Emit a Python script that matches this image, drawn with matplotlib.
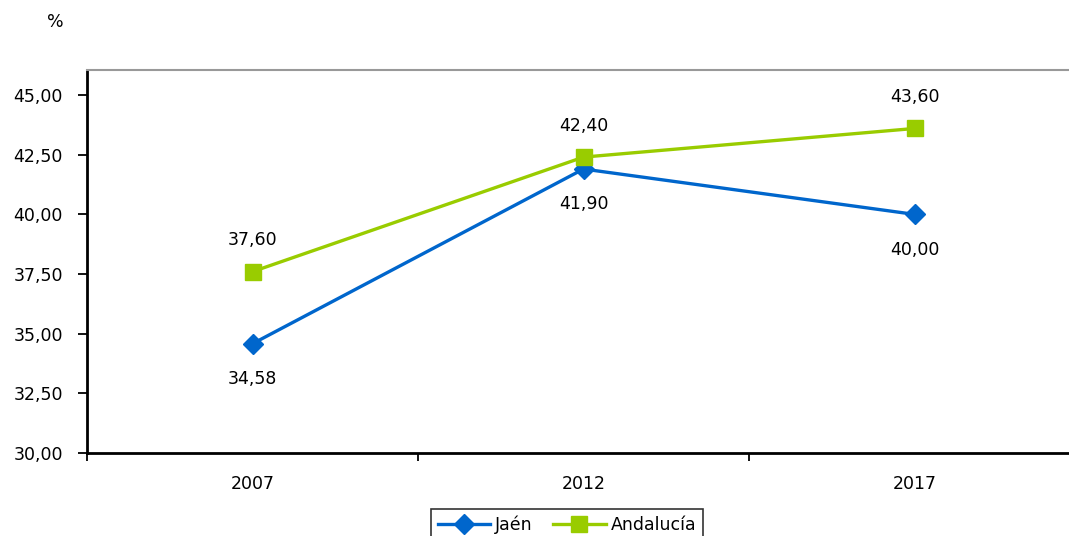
import matplotlib
matplotlib.use("Agg")
import matplotlib.pyplot as plt

years = ["2007", "2012", "2017"]
jaen = [34.58, 41.90, 40.00]
andalucia = [37.60, 42.40, 43.60]
jaen_labels = ["34,58", "41,90", "40,00"]
and_labels = ["37,60", "42,40", "43,60"]
yticks = [30.0, 32.5, 35.0, 37.5, 40.0, 42.5, 45.0]
ytick_labels = ["30,00", "32,50", "35,00", "37,50", "40,00", "42,50", "45,00"]

W, H = 1069, 536
fig = plt.figure(figsize=(W / 100, H / 100), dpi=100)
plt.rcParams['font.family'] = ['DejaVu Sans']
FS = 12.5
ax = fig.add_axes([87 / W, (H - 453) / H, (1080 - 87) / W, (453 - 70) / H])

blue = "#0066CC"
green = "#99CC00"
x = list(range(len(years)))
ax.plot(x, jaen, color=blue, lw=2.4, marker="D", ms=10, label="Jaén", zorder=3)
ax.plot(x, andalucia, color=green, lw=2.4, marker="s", ms=11.5, label="Andalucía", zorder=4)

for i in x:
    ax.annotate(and_labels[i], (i, andalucia[i]), xytext=(0, 16), textcoords="offset points",
                ha="center", va="bottom", fontsize=FS)
    ax.annotate(jaen_labels[i], (i, jaen[i]), xytext=(0, -19), textcoords="offset points",
                ha="center", va="top", fontsize=FS)

ax.set_xlim(-0.5, 2.5)
ax.set_ylim(30, 46.05)
ax.set_yticks(yticks)
ax.set_yticklabels(ytick_labels, fontsize=FS)
ax.set_xticks([-0.5, 0.5, 1.5, 2.5])
ax.set_xticklabels([])
ax.set_xticks(x, minor=True)
ax.set_xticklabels(years, minor=True, fontsize=FS)
ax.tick_params(axis="x", which="minor", length=0, pad=16)
ax.tick_params(axis="x", which="major", length=6, width=1.3, direction="out")
ax.tick_params(axis="y", length=6.5, width=1.3, direction="out", pad=11)

ax.spines["left"].set_linewidth(2)
ax.spines["bottom"].set_linewidth(2)
ax.spines["top"].set_color("#999999")
ax.spines["top"].set_linewidth(1.5)
ax.spines["right"].set_visible(False)

fig.text(55 / W, 1 - 22 / H, "%", ha="center", va="center", fontsize=FS)

leg = fig.legend(loc="upper center", bbox_to_anchor=(567 / W, 1 - 500 / H), ncol=2,
                 fontsize=FS, frameon=True, fancybox=False, edgecolor="black",
                 handlelength=3.0, columnspacing=1.2, handletextpad=0.3, borderpad=0.4)
leg.get_frame().set_linewidth(1.2)

fig.savefig("out.png", dpi=100)
